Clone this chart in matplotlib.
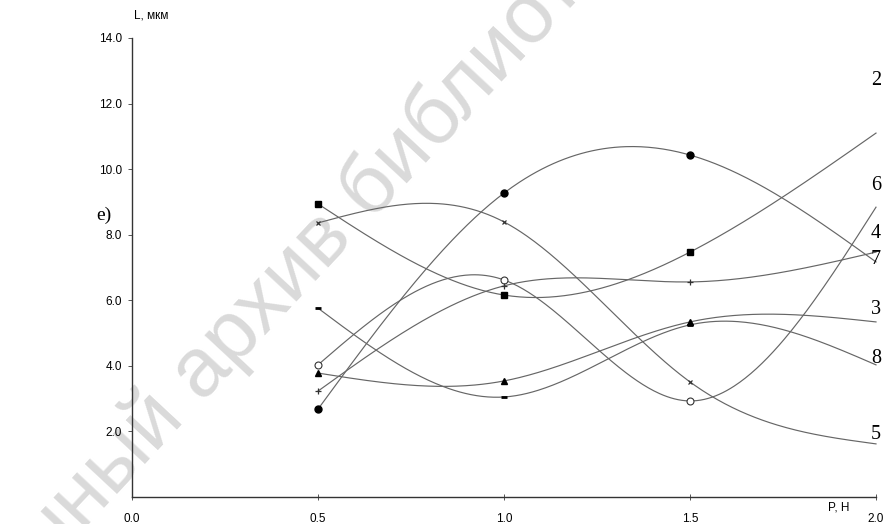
import matplotlib
matplotlib.use('Agg')
import matplotlib.pyplot as plt
import numpy as np

# нагрузка P, Н
p = [0.5, 1.0, 1.5, 2.0]

# значения L, мкм для каждой кривой (подписи справа)
curve_2 = [8.94, 6.16, 7.47, 11.1]   # квадраты
curve_7 = [2.68, 9.27, 10.43, 7.17]  # закрашенные круги
curve_6 = [4.03, 6.62, 2.93, 8.84]   # пустые круги
curve_5 = [8.36, 8.39, 3.51, 1.62]   # крестики
curve_4 = [3.23, 6.44, 6.56, 7.47]   # плюсы
curve_3 = [3.78, 3.54, 5.34, 5.34]   # треугольники
curve_8 = [5.76, 3.05, 5.25, 4.03]   # черточки

curve_names = ['2', '7', '6', '5', '4', '3', '8']
curve_values = [curve_2, curve_7, curve_6, curve_5, curve_4, curve_3, curve_8]
curve_markers = [
    dict(marker='s', ms=5, mfc='black', mec='black'),
    dict(marker='o', ms=5, mfc='black', mec='black'),
    dict(marker='o', ms=5, mfc='white', mec='#333333', mew=0.8),
    dict(marker='x', ms=3.5, mec='#333333', mew=0.9),
    dict(marker='+', ms=5, mec='#333333', mew=0.9),
    dict(marker='^', ms=5, mfc='black', mec='black'),
    dict(marker='_', ms=4, mec='black', mew=2),
]
# положение подписей кривых по высоте (в единицах оси)
label_y = {'2': 12.7, '6': 9.5, '4': 8.05, '7': 7.25, '3': 5.72, '8': 4.22, '5': 1.92}

x_ticks = [0.0, 0.5, 1.0, 1.5, 2.0]
y_ticks = [2.0, 4.0, 6.0, 8.0, 10.0, 12.0, 14.0]


def natural_spline(x, y, n=300):
    x = np.asarray(x, float)
    y = np.asarray(y, float)
    h = np.diff(x)
    m = len(x)
    A = np.zeros((m, m))
    b = np.zeros(m)
    A[0, 0] = A[-1, -1] = 1
    for i in range(1, m - 1):
        A[i, i - 1] = h[i - 1]
        A[i, i] = 2 * (h[i - 1] + h[i])
        A[i, i + 1] = h[i]
        b[i] = 3 * ((y[i + 1] - y[i]) / h[i] - (y[i] - y[i - 1]) / h[i - 1])
    c = np.linalg.solve(A, b)
    xs = np.linspace(x[0], x[-1], n)
    idx = np.clip(np.searchsorted(x, xs) - 1, 0, m - 2)
    dx = xs - x[idx]
    bb = (y[1:] - y[:-1]) / h - h * (2 * c[:-1] + c[1:]) / 3
    d = (c[1:] - c[:-1]) / (3 * h)
    ys = y[idx] + bb[idx] * dx + c[idx] * dx ** 2 + d[idx] * dx ** 3
    return xs, ys


plt.rcParams['font.family'] = ['Liberation Sans', 'DejaVu Sans']

fig = plt.figure(figsize=(8.87, 5.24), dpi=100)
ax = fig.add_axes([132 / 887, 1 - 497 / 524, 744 / 887, 459 / 524])
ax.patch.set_alpha(0)

# водяной знак
fig.text(237 / 887, 1 - 333 / 524, 'Электронный архив библиотеки', rotation=47,
         fontsize=60, color='#dadada', ha='center', va='center',
         rotation_mode='anchor', zorder=-1)

for name, vals, mk in zip(curve_names, curve_values, curve_markers):
    xs, ys = natural_spline(p, vals)
    ax.plot(xs, ys, color='#666666', lw=0.85, clip_on=False, zorder=2)
    ax.plot(p[:-1], vals[:-1], ls='none', clip_on=False, zorder=3, **mk)
    ax.text(2.0, label_y[name], name, ha='center', va='center',
            fontsize=14.5, family='Liberation Serif', clip_on=False)

ax.set_xlim(0, 2.0)
ax.set_ylim(0, 14.0)
for s in ['top', 'right']:
    ax.spines[s].set_visible(False)
for s in ['left', 'bottom']:
    ax.spines[s].set_color('#333333')
    ax.spines[s].set_linewidth(1.0)

ax.set_xticks(x_ticks)
ax.set_xticklabels(['%.1f' % v for v in x_ticks])
ax.set_yticks(y_ticks)
ax.set_yticklabels(['%.1f' % v for v in y_ticks])
ax.tick_params(axis='x', direction='inout', length=5, width=0.7,
               colors='#555555', labelcolor='black', labelsize=8.5, pad=9)
ax.tick_params(axis='y', direction='out', length=3, width=0.7,
               colors='#555555', labelcolor='black', labelsize=8.5, pad=4)

fig.text(134 / 887, 1 - 16 / 524, 'L, мкм', fontsize=8.5, ha='left', va='center')
fig.text(828 / 887, 1 - 507 / 524, 'P, H', fontsize=8.5, ha='left', va='center')
fig.text(104 / 887, 1 - 215 / 524, 'e)', fontsize=14, ha='center', va='center',
         family='Liberation Serif')

fig.savefig('out.png', dpi=100)
